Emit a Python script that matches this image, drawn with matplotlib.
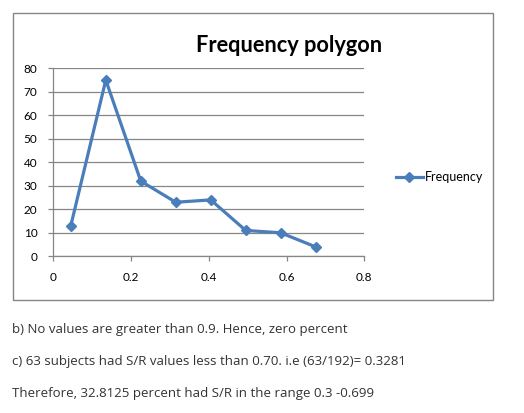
import matplotlib.pyplot as plt
from matplotlib.patches import Rectangle

# class midpoints of S/R and their frequencies
midpoints = [0.045, 0.135, 0.225, 0.315, 0.405, 0.495, 0.585, 0.675]
frequency = [13, 75, 32, 23, 24, 11, 10, 4]

x_ticks = [0, 0.2, 0.4, 0.6, 0.8]
x_tick_labels = ['0', '0.2', '0.4', '0.6', '0.8']
y_ticks = [0, 10, 20, 30, 40, 50, 60, 70, 80]

notes = [
    'b) No values are greater than 0.9. Hence, zero percent',
    'c) 63 subjects had S/R values less than 0.70. i.e (63/192)= 0.3281',
    'Therefore, 32.8125 percent had S/R in the range 0.3 -0.699',
]

W, H = 524, 413
BLUE = '#4a7ebb'
GRID = '#868686'

plt.rcParams['font.family'] = ['Lato', 'DejaVu Sans']

fig = plt.figure(figsize=(W / 100, H / 100), dpi=100)
fig.patch.set_facecolor('white')

## outer chart frame
fig.patches.append(Rectangle((13 / W, 1 - 300 / H), 480 / W, 287.5 / H,
                             transform=fig.transFigure, fill=False,
                             edgecolor=GRID, linewidth=1))

ax = fig.add_axes([53.3 / W, 1 - 256.3 / H, 311 / W, 188 / H])
ax.plot(midpoints, frequency, color=BLUE, linewidth=2.3,
        marker='D', markersize=5.5, label='Frequency', clip_on=False)

ax.set_xlim(0, 0.8)
ax.set_ylim(0, 80)
ax.set_xticks(x_ticks)
ax.set_xticklabels(x_tick_labels)
ax.set_yticks(y_ticks)
ax.yaxis.grid(True, color=GRID, linewidth=0.9)
ax.set_axisbelow(True)

for s in ['top', 'right']:
    ax.spines[s].set_visible(False)
for s in ['left', 'bottom']:
    ax.spines[s].set_color(GRID)
    ax.spines[s].set_linewidth(0.9)

ax.tick_params(axis='both', colors=GRID, labelcolor='black', labelsize=8.5,
               length=3.5, width=0.9)
ax.tick_params(axis='x', pad=8)
ax.tick_params(axis='y', pad=8)

fig.text(289 / W, 1 - 45 / H, 'Frequency polygon', ha='center', va='center',
         fontsize=15.7, fontweight='bold')

ax.legend(loc='center left', bbox_to_anchor=(390 / W, 1 - 177 / H),
          bbox_transform=fig.transFigure, frameon=False, fontsize=9,
          handlelength=2.1, handletextpad=0.15, borderpad=0)

ys = [329, 361.5, 393]
for t, y in zip(notes, ys):
    fig.text(12 / W, 1 - y / H, t, ha='left', va='center', fontsize=9.5,
             color='#333333', family=['Open Sans', 'DejaVu Sans'])

fig.savefig('out.png', dpi=100)
